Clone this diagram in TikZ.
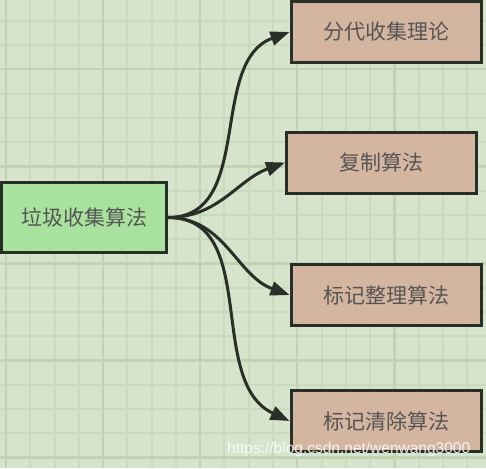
\documentclass[tikz,border=0pt]{standalone}
\usepackage{fontspec}
\newfontfamily\cjk{Noto Sans CJK SC}
\newfontfamily\wmark{Liberation Sans}
\usetikzlibrary{arrows.meta}
\definecolor{bggreen}{HTML}{D5E4CA}
\definecolor{gridminor}{HTML}{C9DBBD}
\definecolor{gridmajor}{HTML}{C0D3B3}
\definecolor{boxtan}{HTML}{D4B59F}
\definecolor{boxgreen}{HTML}{A8E29E}
\definecolor{edgedark}{HTML}{2A2E29}
\definecolor{textgray}{HTML}{555555}

\begin{document}
\begin{tikzpicture}[x=1pt,y=1pt,
    box/.style={draw=edgedark, line width=3pt, fill=boxtan,
      minimum width=190pt, minimum height=61pt, inner sep=0pt,
      font=\cjk\fontsize{21}{25}\selectfont, text=textgray},
    link/.style={edgedark, line width=3pt, -{Triangle[length=19pt,width=14pt]}}]

  % Background and grid
  \useasboundingbox (0,0) rectangle (486,-468);
  \fill[bggreen] (0,0) rectangle (486,-468);
  \foreach \k in {0,...,19} {
    \pgfmathsetmacro{\gx}{6+24.27*\k}
    \draw[gridminor, line width=2pt] (\gx,0) -- (\gx,-468);
  }
  \foreach \k in {0,...,18} {
    \pgfmathsetmacro{\gy}{-20.7-24.27*\k}
    \draw[gridminor, line width=2pt] (0,\gy) -- (486,\gy);
  }
  \foreach \k in {0,4,...,16} {
    \pgfmathsetmacro{\gx}{6+24.27*\k}
    \draw[gridmajor, line width=2.5pt] (\gx,0) -- (\gx,-468);
  }
  \foreach \k in {2,6,...,18} {
    \pgfmathsetmacro{\gy}{-20.7-24.27*\k}
    \draw[gridmajor, line width=2.5pt] (0,\gy) -- (486,\gy);
  }

  % Boxes
  \node[box, fill=boxgreen, minimum width=165pt, minimum height=70pt] (GC) at (84,-217.5) {垃圾收集算法};
  \node[box] (GEN) at (386,-32) {分代收集理论};
  \node[box] (COPY) at (381.5,-162.5) {复制算法};
  \node[box] (MC) at (386,-295) {标记整理算法};
  \node[box] (MS) at (386,-421) {标记清除算法};

  % Connectors
  \draw[link] (GC.east) to[out=0, in=200] (GEN.west);
  \draw[link] (GC.east) to[out=0, in=200] (COPY.west);
  \draw[link] (GC.east) to[out=0, in=160] (MC.west);
  \draw[link] (GC.east) to[out=0, in=155] (MS.west);

  % Watermark
  \node[anchor=base west, inner sep=0pt, text=white, opacity=0.85,
    font=\wmark\fontsize{15.5}{18}\selectfont] (WM) at (227,-453) {https://blog.csdn.net/wenwang3000};

\end{tikzpicture}
\end{document}
